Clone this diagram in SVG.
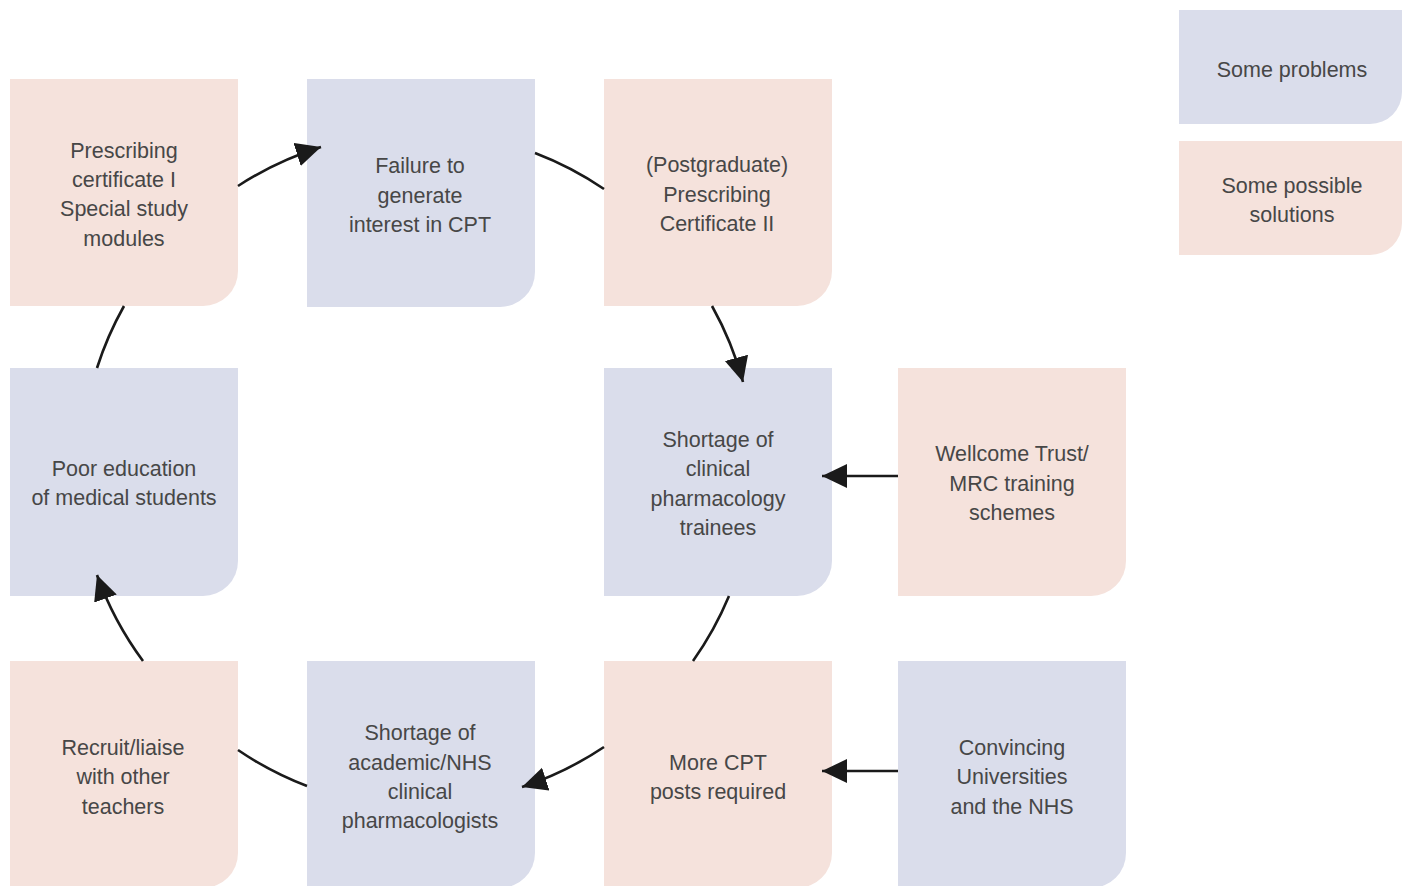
<svg xmlns="http://www.w3.org/2000/svg" width="1402" height="886" viewBox="0 0 1402 886">
<style>
.pink{fill:#F5E2DC}
.blue{fill:#DADDEB}
text{font-family:"Liberation Sans",Arial,sans-serif;font-size:21.5px;fill:#474747;text-anchor:middle}
.c{fill:none;stroke:#1a1a1a;stroke-width:2.6}
</style>
<defs>
<marker id="ah" markerUnits="userSpaceOnUse" markerWidth="30" markerHeight="30" refX="25" refY="12" orient="auto">
<path d="M0,0 L25,12 L0,24 Z" fill="#1a1a1a"/>
</marker>
</defs>
<rect width="1402" height="886" fill="#fff"/>

<g id="n-cert1">
<path class="pink" d="M10,79 H238 V271 A35,35 0 0 1 203,306 H10 Z"/>
<text x="124" y="158">Prescribing</text>
<text x="124" y="187">certificate I</text>
<text x="124" y="216">Special study</text>
<text x="124" y="246">modules</text>
</g>

<g id="n-failure">
<path class="blue" d="M307,79 H535 V272 A35,35 0 0 1 500,307 H307 Z"/>
<text x="420" y="173">Failure to</text>
<text x="420" y="203">generate</text>
<text x="420" y="232">interest in CPT</text>
</g>

<g id="n-cert2">
<path class="pink" d="M604,79 H832 V271 A35,35 0 0 1 797,306 H604 Z"/>
<text x="717" y="172">(Postgraduate)</text>
<text x="717" y="202">Prescribing</text>
<text x="717" y="231">Certificate II</text>
</g>

<g id="n-trainees">
<path class="blue" d="M604,368 H832 V561 A35,35 0 0 1 797,596 H604 Z"/>
<text x="718" y="447">Shortage of</text>
<text x="718" y="476">clinical</text>
<text x="718" y="506">pharmacology</text>
<text x="718" y="535">trainees</text>
</g>

<g id="n-wellcome">
<path class="pink" d="M898,368 H1126 V561 A35,35 0 0 1 1091,596 H898 Z"/>
<text x="1012" y="461">Wellcome Trust/</text>
<text x="1012" y="491">MRC training</text>
<text x="1012" y="520">schemes</text>
</g>

<g id="n-education">
<path class="blue" d="M10,368 H238 V561 A35,35 0 0 1 203,596 H10 Z"/>
<text x="124" y="476">Poor education</text>
<text x="124" y="505">of medical students</text>
</g>

<g id="n-recruit">
<path class="pink" d="M10,661 H238 V853 A35,35 0 0 1 203,888 H10 Z"/>
<text x="123" y="755">Recruit/liaise</text>
<text x="123" y="784">with other</text>
<text x="123" y="814">teachers</text>
</g>

<g id="n-academic">
<path class="blue" d="M307,661 H535 V853 A35,35 0 0 1 500,888 H307 Z"/>
<text x="420" y="740">Shortage of</text>
<text x="420" y="770">academic/NHS</text>
<text x="420" y="799">clinical</text>
<text x="420" y="828">pharmacologists</text>
</g>

<g id="n-posts">
<path class="pink" d="M604,661 H832 V853 A35,35 0 0 1 797,888 H604 Z"/>
<text x="718" y="770">More CPT</text>
<text x="718" y="799">posts required</text>
</g>

<g id="n-convincing">
<path class="blue" d="M898,661 H1126 V853 A35,35 0 0 1 1091,888 H898 Z"/>
<text x="1012" y="755">Convincing</text>
<text x="1012" y="784">Universities</text>
<text x="1012" y="814">and the NHS</text>
</g>

<g id="legend-problems">
<path class="blue" d="M1179,10 H1402 V92 A32,32 0 0 1 1370,124 H1179 Z"/>
<text x="1292" y="77">Some problems</text>
</g>

<g id="legend-solutions">
<path class="pink" d="M1179,141 H1402 V223 A32,32 0 0 1 1370,255 H1179 Z"/>
<text x="1292" y="193">Some possible</text>
<text x="1292" y="222">solutions</text>
</g>

<g id="connectors">
<path class="c" d="M238,186 A336,336 0 0 1 321,147" marker-end="url(#ah)"/>
<path class="c" d="M535,153 A336,336 0 0 1 604,189"/>
<path class="c" d="M712,306 A336,336 0 0 1 743,382" marker-end="url(#ah)"/>
<path class="c" d="M729,596 A336,336 0 0 1 693,661"/>
<path class="c" d="M604,747 A336,336 0 0 1 522,787" marker-end="url(#ah)"/>
<path class="c" d="M307,786 A336,336 0 0 1 238,750"/>
<path class="c" d="M143,661 A336,336 0 0 1 97,575" marker-end="url(#ah)"/>
<path class="c" d="M97,368 A336,336 0 0 1 124,306"/>
<path class="c" d="M898,476 H822" marker-end="url(#ah)"/>
<path class="c" d="M898,771 H822" marker-end="url(#ah)"/>
</g>
</svg>
